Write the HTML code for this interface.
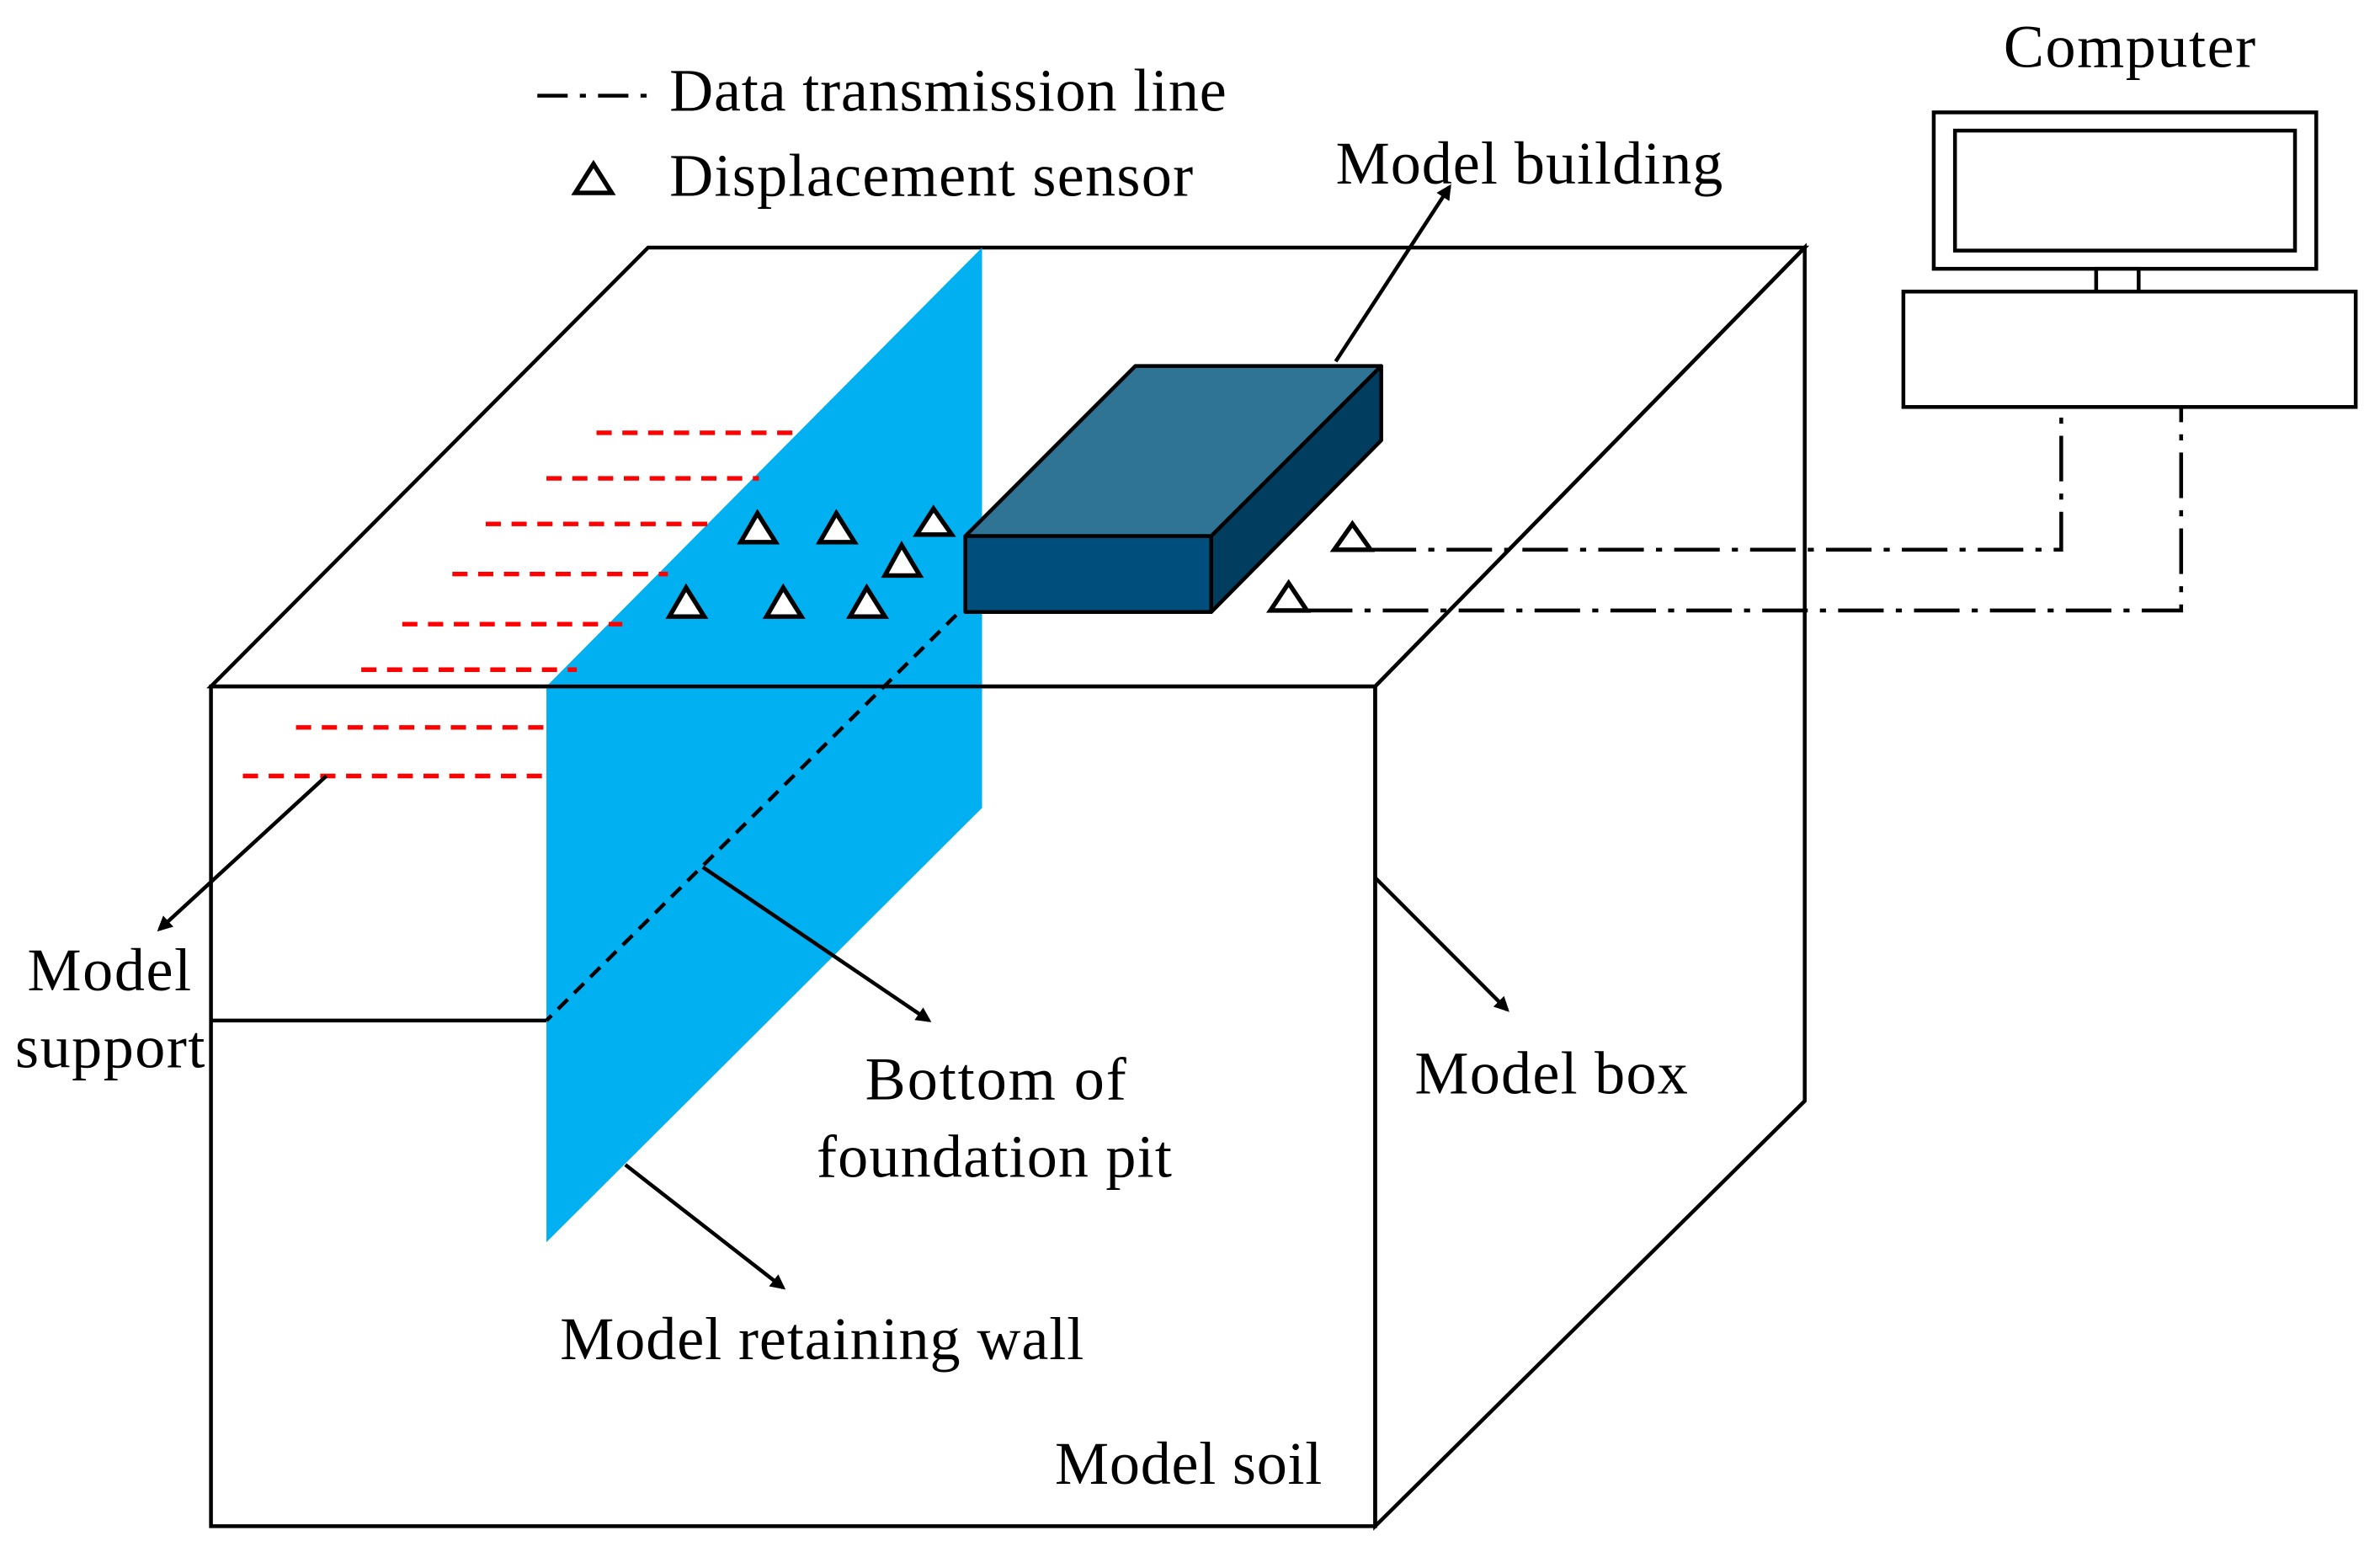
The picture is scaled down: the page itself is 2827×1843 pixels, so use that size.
<!DOCTYPE html>
<html><head><meta charset="utf-8"><style>
html,body{margin:0;padding:0;background:#fff;}
svg{display:block;}
text{font-family:"Liberation Serif",serif;font-size:40px;fill:#000;}
</style></head><body>
<svg width="2827" height="1843" viewBox="0 0 1568 1022" preserveAspectRatio="none" xmlns="http://www.w3.org/2000/svg">
<defs><marker id="ah" markerWidth="10" markerHeight="10" refX="8" refY="5" orient="auto" markerUnits="userSpaceOnUse"><path d="M0,0 L10,5 L0,10 z" fill="#000"/></marker></defs>
<g stroke="#000" stroke-width="2.5" fill="none">
<polygon points="139,452 427,163 1189,163 906,452"/>
<polygon points="906,452 1189,163 1189,725 906,1005"/>
<rect x="139" y="452" width="767" height="553"/>
</g>
<polygon points="647,163 647,532 360,818 360,452" fill="#00B0F0"/>
<line x1="360" y1="452" x2="647" y2="452" stroke="#000" stroke-width="2.5"/>
<g stroke="#f00" stroke-width="3" stroke-dasharray="10,7">
<line x1="393" y1="285" x2="528" y2="285"/><line x1="360" y1="315" x2="500" y2="315"/>
<line x1="320" y1="345" x2="470" y2="345"/><line x1="298" y1="378" x2="440" y2="378"/>
<line x1="265" y1="411" x2="410" y2="411"/><line x1="238" y1="441" x2="380" y2="441"/>
<line x1="195" y1="479" x2="360" y2="479"/><line x1="160" y1="511" x2="360" y2="511"/>
</g>
<line x1="630" y1="405" x2="360" y2="672" stroke="#000" stroke-width="2.5" stroke-dasharray="9,6"/>
<line x1="139" y1="672" x2="360" y2="672" stroke="#000" stroke-width="2.5"/>
<g stroke="#000" stroke-width="2.5" stroke-linejoin="round">
<polygon points="636,353 748,241 910,241 798,353" fill="#2F7395"/>
<polygon points="798,353 910,241 910,290 798,403" fill="#003D5E"/>
<rect x="636" y="353" width="162" height="50" fill="#004E7C"/>
</g>
<g fill="#fff" stroke="#000" stroke-width="3" stroke-linejoin="miter">
<polygon points="499,338 488,357 511,357"/><polygon points="551,338 540,357 563,357"/>
<polygon points="615,335 604,352 627,352"/><polygon points="594,359 583,379 606,379"/>
<polygon points="452,387 441,406 464,406"/><polygon points="516,387 505,406 528,406"/>
<polygon points="571,387 560,406 583,406"/><polygon points="891,345 879,362 903,362"/>
<polygon points="849,384 837,402 861,402"/><polygon points="391,108 379,127 403,127"/>
</g>
<g stroke="#000" stroke-width="2.5" fill="none" stroke-dasharray="30,8,4,8">
<polyline points="903,362 1358,362 1358,268"/>
<polyline points="861,402 1437,402 1437,268"/>
</g>
<line x1="354" y1="63" x2="430" y2="63" stroke="#000" stroke-width="2.5" stroke-dasharray="20,8,4,8"/>
<g stroke="#000" stroke-width="2.5" fill="#fff">
<rect x="1274" y="74" width="252" height="103"/>
<rect x="1288" y="86" width="224" height="79"/>
<rect x="1381" y="177" width="28" height="15"/>
<rect x="1254" y="192" width="298" height="76"/>
</g>
<g stroke="#000" stroke-width="2.5" marker-end="url(#ah)">
<line x1="880" y1="238" x2="955" y2="123"/>
<line x1="215" y1="511" x2="105" y2="612"/>
<line x1="463" y1="571" x2="612" y2="672"/>
<line x1="906" y1="578" x2="993" y2="665"/>
<line x1="412" y1="767" x2="516" y2="848"/>
</g>
<text x="1403" y="44" text-anchor="middle" textLength="166">Computer</text>
<text x="441" y="73" textLength="367">Data transmission line</text>
<text x="441" y="129" textLength="345">Displacement sensor</text>
<text x="880" y="121" textLength="255">Model building</text>
<text x="18" y="652" textLength="108">Model</text>
<text x="10" y="703" textLength="125">support</text>
<text x="570" y="724" textLength="172">Bottom of</text>
<text x="538" y="775" textLength="234">foundation pit</text>
<text x="932" y="720" textLength="180">Model box</text>
<text x="369" y="895" textLength="345">Model retaining wall</text>
<text x="695" y="977" textLength="176">Model soil</text>
</svg>
</body></html>
